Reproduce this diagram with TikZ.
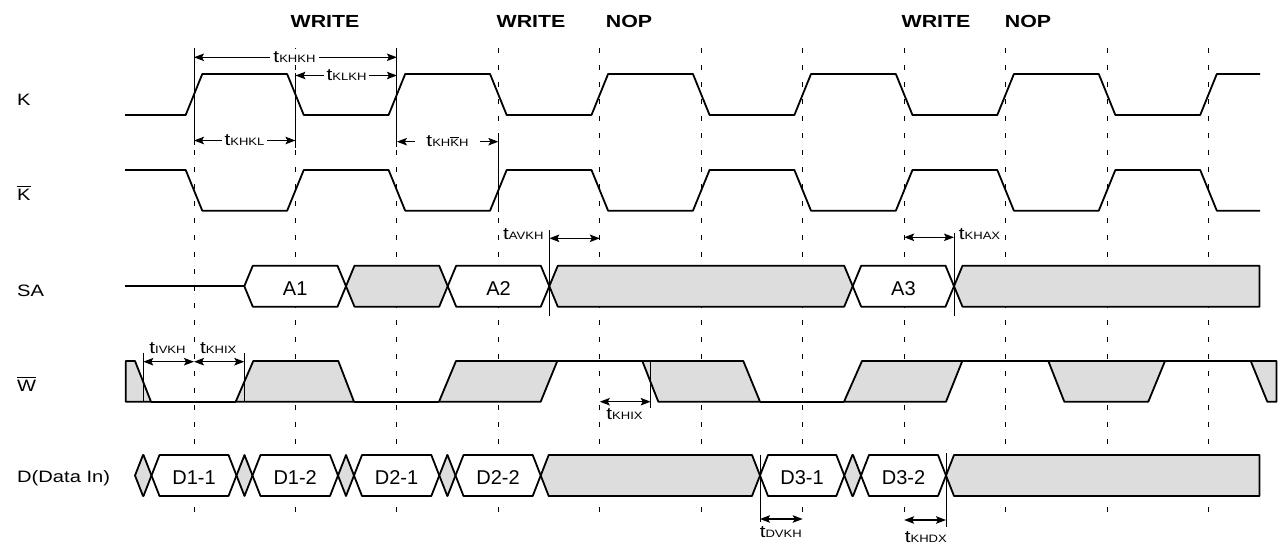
\documentclass[tikz,border=0pt]{standalone}
\usepackage{fontspec}
\setmainfont{Liberation Sans}
\newfontfamily\widefont[FakeStretch=1.22]{Liberation Sans}
\usetikzlibrary{arrows.meta}
\definecolor{busgray}{RGB}{221,221,221}
\newcommand\ovl[2][1pt]{\leavevmode\vbox{\hrule height #1\kern1.6pt\hbox{#2}}}
\newcommand\tsub[1]{t{\fontsize{10.7}{12}\selectfont #1}}
\newcommand\sabus[3]{\draw[#1] (#2,286.2) -- ({#2+8.5},265.7) -- ({#3-8.5},265.7) -- (#3,286.2) -- ({#3-8.5},306.7) -- ({#2+8.5},306.7) -- cycle;}
\newcommand\dbus[3]{\draw[#1] (#2,475.5) -- ({#2+8},455) -- ({#3-8},455) -- (#3,475.5) -- ({#3-8},496) -- ({#2+8},496) -- cycle;}
\tikzset{
  sig/.style={line width=1.8pt, line join=round},
  busfill/.style={sig, fill=busgray},
  buswhite/.style={sig, fill=white},
  dashline/.style={line width=0.9pt, dash pattern=on 5pt off 12pt},
  refline/.style={line width=0.9pt},
  tarrow/.style={line width=1.1pt, {Stealth[length=10pt,width=7.5pt,inset=2pt]}-{Stealth[length=10pt,width=7.5pt,inset=2pt]}},
  rowlabel/.style={font=\widefont\fontsize{16.5}{19}\selectfont, anchor=base west, inner sep=0pt},
  cmd/.style={font=\widefont\bfseries\fontsize{17.5}{20}\selectfont, anchor=base, inner sep=0pt},
  tlab/.style={font=\widefont\fontsize{17}{18}\selectfont, anchor=base, inner sep=0pt},
  tin/.style={tlab, fill=white, inner xsep=3pt, inner ysep=2pt},
  blab/.style={font=\fontsize{20}{24}\selectfont, anchor=base, inner sep=0pt},
}
\begin{document}
\begin{tikzpicture}[x=1pt,y=-1pt]
\useasboundingbox (0,0) rectangle (1284,546);
\fill[white] (0,0) rectangle (1284,546);
% clock grid
\foreach \k in {0,...,10}{\draw[dashline] ({194+101.45*\k},48) -- ({194+101.45*\k},518);}
% commands
\node[cmd] (c1) at (325,27.5) {WRITE};
\node[cmd] (c2) at (531,27.5) {WRITE};
\node[cmd] (c3) at (629,27.5) {NOP};
\node[cmd] (c4) at (936,27.5) {WRITE};
\node[cmd] (c5) at (1028,27.5) {NOP};
% row labels
\node[rowlabel] (lK) at (17,105) {K};
\node[rowlabel] (lKb) at (17,200) {\ovl[1.1pt]{K}};
\node[rowlabel] (lSA) at (17,296) {SA};
\node[rowlabel] (lW) at (17,391) {\ovl[1.1pt]{W}};
\node[rowlabel] (lD) at (17,482) {D(Data In)};
% K
\draw[sig] (125,115) -- (185.7,115) -- (202.3,74) -- (287.15,74) -- (303.75,115) -- (388.6,115) -- (405.2,74) -- (490.05,74) -- (506.65,115) -- (591.5,115) -- (608.1,74) -- (692.95,74) -- (709.55,115) -- (794.4,115) -- (811,74) -- (895.85,74) -- (912.45,115) -- (997.3,115) -- (1013.9,74) -- (1098.75,74) -- (1115.35,115) -- (1200.2,115) -- (1216.8,74) -- (1260,74);
% K bar
\draw[sig] (125,170) -- (185.7,170) -- (202.3,210.7) -- (287.15,210.7) -- (303.75,170) -- (388.6,170) -- (405.2,210.7) -- (490.05,210.7) -- (506.65,170) -- (591.5,170) -- (608.1,210.7) -- (692.95,210.7) -- (709.55,170) -- (794.4,170) -- (811,210.7) -- (895.85,210.7) -- (912.45,170) -- (997.3,170) -- (1013.9,210.7) -- (1098.75,210.7) -- (1115.35,170) -- (1200.2,170) -- (1216.8,210.7) -- (1260,210.7);
% SA
\draw[sig] (125,286.2) -- (244.3,286.2);
\sabus{buswhite}{244.3}{346}
\sabus{busfill}{346}{447.7}
\sabus{buswhite}{447.7}{549.3}
\sabus{busfill}{549.3}{852.7}
\sabus{buswhite}{852.7}{954}
\draw[busfill] (954,286.2) -- (962.5,265.7) -- (1259.5,265.7) -- (1259.5,306.7) -- (962.5,306.7) -- cycle;
\node[blab] (a1) at (295.2,295) {A1};
\node[blab] (a2) at (498.5,295) {A2};
\node[blab] (a3) at (903.4,295) {A3};
% W bar
\draw[busfill] (125.7,361) -- (135,361) -- (151,401.7) -- (125.7,401.7) -- cycle;
\draw[busfill] (235.7,401.7) -- (253.3,361) -- (338.3,361) -- (354,401.7) -- cycle;
\draw[busfill] (439,401.7) -- (456,361) -- (557.3,361) -- (540.7,401.7) -- cycle;
\draw[busfill] (642.3,361) -- (743.3,361) -- (760,401.7) -- (658.3,401.7) -- cycle;
\draw[busfill] (844,401.7) -- (862,361) -- (962.3,361) -- (946,401.7) -- cycle;
\draw[busfill] (1048.3,361) -- (1165,361) -- (1148.3,401.7) -- (1064.3,401.7) -- cycle;
\draw[busfill] (1250.7,361) -- (1276.5,361) -- (1276.5,401.7) -- (1267.3,401.7) -- cycle;
\draw[sig] (151,401.7) -- (235.7,401.7);
\draw[sig] (354,401.7) -- (439,401.7);
\draw[sig] (557.3,361) -- (642.3,361);
\draw[sig] (760,401.7) -- (844,401.7);
\draw[sig] (962.3,361) -- (1048.3,361);
\draw[sig] (1165,361) -- (1250.7,361);
% D
\dbus{busfill}{135}{151.5}
\dbus{buswhite}{151.5}{236.5}
\dbus{busfill}{236.5}{252.5}
\dbus{buswhite}{252.5}{338}
\dbus{busfill}{338}{354}
\dbus{buswhite}{354}{439.3}
\dbus{busfill}{439.3}{455.5}
\dbus{buswhite}{455.5}{540.7}
\dbus{busfill}{540.7}{760}
\dbus{buswhite}{760}{844.3}
\dbus{busfill}{844.3}{861}
\dbus{buswhite}{861}{946}
\draw[busfill] (946,475.5) -- (954,455) -- (1259.5,455) -- (1259.5,496) -- (954,496) -- cycle;
\node[blab] (d11) at (194,484) {D1-1};
\node[blab] (d12) at (295.2,484) {D1-2};
\node[blab] (d21) at (396.6,484) {D2-1};
\node[blab] (d22) at (498,484) {D2-2};
\node[blab] (d31) at (802,484) {D3-1};
\node[blab] (d32) at (903.5,484) {D3-2};
% reference lines K row
\draw[refline] (194,50.7) -- (194,145);
\draw[refline] (295.45,73) -- (295.45,148);
\draw[refline] (396.9,50.7) -- (396.9,147);
\draw[refline] (498.35,136.7) -- (498.35,211.7);
% K row timing
\draw[tarrow] (194,57.3) -- (396.9,57.3);
\node[tin] (tkhkh) at (294.5,62.3) {\tsub{KHKH}};
\draw[tarrow] (295.45,75.5) -- (396.9,75.5);
\node[tin] (tklkh) at (346.5,80.5) {\tsub{KLKH}};
\draw[tarrow] (194,140.5) -- (295.45,140.5);
\node[tin] (tkhkl) at (244.5,145.5) {\tsub{KHKL}};
\draw[tarrow] (396.9,141.7) -- (498.35,141.7);
\node[tin, inner xsep=11pt] (tkhkbh) at (447.5,146.7) {\tsub{KH\ovl[0.7pt]{K}H}};
% SA timing
\draw[refline] (549.3,230) -- (549.3,315.7);
\draw[tarrow] (549.3,238.3) -- (599.8,238.3);
\node[tlab] (tavkh) at (523.3,239) {\tsub{AVKH}};
\draw[refline] (954,233) -- (954,315.7);
\draw[tarrow] (904.15,237.3) -- (954,237.3);
\node[tlab] (tkhax) at (979.5,239) {\tsub{KHAX}};
% W timing
\draw[refline] (143.3,353) -- (143.3,401.7);
\draw[refline] (244.3,353) -- (244.3,401.7);
\draw[tarrow] (143.3,361.7) -- (194,361.7);
\draw[tarrow] (194,361.7) -- (244.3,361.7);
\node[tlab] (tivkh) at (167.5,353.3) {\tsub{IVKH}};
\node[tlab] (tkhix1) at (218.3,353.3) {\tsub{KHIX}};
\draw[refline] (650.7,361) -- (650.7,408);
\draw[tarrow] (599.8,401.7) -- (650.7,401.7);
\node[tlab] (tkhix2) at (624.5,419) {\tsub{KHIX}};
% D timing
\draw[refline] (760,455) -- (760,521.7);
\draw[tarrow] (760,519) -- (802.7,519);
\node[tlab] (tdvkh) at (780.8,537) {\tsub{DVKH}};
\draw[refline] (946,453) -- (946,526.7);
\draw[tarrow] (904.15,520) -- (946,520);
\node[tlab] (tkhdx) at (925.8,542) {\tsub{KHDX}};
\end{tikzpicture}
\end{document}
